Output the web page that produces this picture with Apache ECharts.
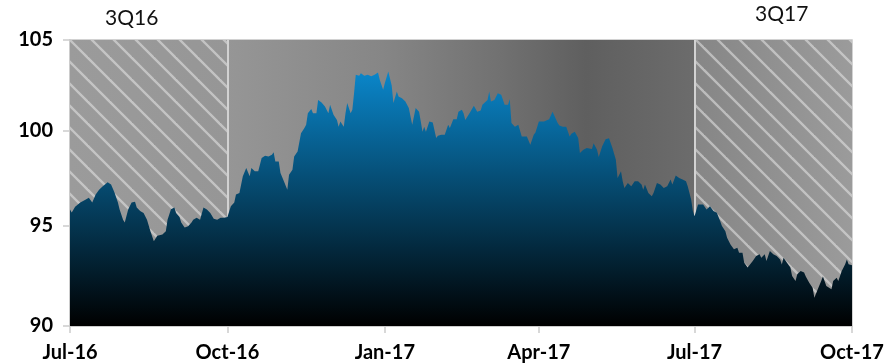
<!DOCTYPE html>
<html>
<head>
<meta charset="utf-8">
<script src="https://cdn.jsdelivr.net/npm/echarts@6/dist/echarts.min.js"></script>
<style>html,body{margin:0;padding:0;background:#fff}#c{width:896px;height:363px}</style>
</head>
<body>
<div id="c"></div>
<script>
// Days since 2016-07-01 and index level (log-scaled axis)
const dayOffsets = [0,1,3,6,9,11,13,15,17,19,20,22,24,26,28,29,31,32,34,36,38,39,41,43,45,47,49,51,54,56,57,59,61,62,64,65,67,69,71,72,74,76,78,80,82,84,86,88,90,92,93,94,96,97,98,99,101,103,105,106,108,110,112,114,116,118,119,120,122,123,125,127,128,130,131,133,135,137,138,139,141,142,144,145,147,149,151,152,154,156,157,158,160,161,162,164,165,166,167,169,170,172,174,176,178,180,181,183,184,186,188,189,191,192,193,194,196,198,199,200,202,204,205,206,207,208,210,212,214,215,217,219,221,222,224,226,227,229,230,231,234,236,238,240,241,244,245,246,248,250,252,254,256,257,258,260,262,264,267,269,271,272,274,277,280,282,283,285,286,288,290,292,293,295,297,298,300,302,305,306,308,309,311,313,315,317,319,320,321,322,323,324,326,328,330,332,334,335,336,338,340,341,343,345,347,349,351,352,354,356,358,360,361,363,364,365,367,368,370,372,374,376,378,380,381,383,384,386,388,390,391,393,394,396,397,399,401,403,404,406,407,409,411,413,415,416,417,419,421,422,424,425,427,429,430,432,434,435,437,439,440,442,443,445,446,448,449,451,453,454,455,457];
const values = [95.83,95.68,95.98,96.19,96.34,96.44,96.19,96.61,96.86,97.03,97.07,97.25,97.13,96.71,96.19,95.83,95.31,95.16,95.83,96.19,96.24,95.94,95.75,95.65,95.31,94.72,94.21,94.48,94.55,94.72,95.31,95.84,95.94,95.65,95.45,95.16,94.91,94.97,95.16,95.31,95.41,95.31,95.94,95.83,95.65,95.35,95.31,95.41,95.41,95.45,95.41,96.0,96.19,96.61,96.52,96.69,97.56,98.0,97.56,98.0,97.83,97.83,98.53,98.65,98.61,98.7,98.83,98.35,98.35,97.73,97.3,96.86,97.65,97.91,98.61,98.88,99.85,100.13,100.31,100.94,101.16,100.94,100.94,101.66,101.52,101.3,100.94,101.4,100.85,100.57,100.21,100.49,100.21,100.94,101.49,100.94,101.12,102.03,103.05,102.99,103.14,102.99,103.05,102.97,103.05,103.18,102.77,102.22,102.59,103.23,102.45,101.49,102.13,101.85,101.94,101.76,101.58,101.22,100.76,100.31,101.22,101.02,100.49,99.94,100.21,99.94,100.49,100.43,99.6,99.72,99.77,99.77,100.31,100.13,100.61,100.61,101.02,101.12,100.94,100.57,101.02,101.34,101.02,101.09,101.4,101.66,102.13,101.58,101.66,102.03,101.94,101.4,101.4,101.71,100.4,100.21,100.31,99.68,99.68,99.23,99.77,99.89,100.49,100.49,100.61,101.02,100.97,100.4,100.27,100.21,100.21,99.68,99.82,99.94,99.6,98.8,98.97,99.06,99.01,99.32,98.97,98.58,99.15,99.53,99.59,99.06,98.44,97.48,97.39,97.83,97.3,96.95,97.21,97.04,97.3,97.3,97.13,96.86,97.13,96.69,96.52,96.69,97.21,97.13,96.95,97.04,97.39,97.13,97.6,97.48,97.39,97.3,97.04,96.35,95.75,95.49,96.09,96.18,96.09,95.83,96.0,95.75,95.66,95.23,94.98,94.72,94.38,94.04,93.8,93.88,93.62,93.62,93.12,92.88,92.79,93.21,93.46,93.55,93.37,93.55,93.21,93.71,93.55,93.46,93.28,93.03,93.37,93.12,92.88,92.46,92.21,92.54,92.71,92.63,92.43,92.12,91.88,91.38,91.8,92.21,92.43,91.96,91.88,91.8,92.21,92.37,92.21,92.71,93.05,93.28,93.05,93.0];

const tickDays = [0, 92, 184, 274, 365, 457];
const tickLabels = ['Jul-16', 'Oct-16', 'Jan-17', 'Apr-17', 'Jul-17', 'Oct-17'];
const yTicks = [90, 95, 100, 105];
const quarterBands = [
  { name: '3Q16', from: 0, to: 92 },
  { name: '3Q17', from: 365, to: 457 }
];
const quarterLines = [92, 365];

function makeHatch(offset) {
  const s = 22;
  const cv = document.createElement('canvas');
  cv.width = s; cv.height = s;
  const ctx = cv.getContext('2d');
  ctx.strokeStyle = 'rgba(232,232,232,0.55)';
  ctx.lineWidth = 2.3;
  for (let k = -2; k <= 1; k++) {
    const c = offset + k * s;
    ctx.beginPath();
    ctx.moveTo(-3, -3 + c);
    ctx.lineTo(s + 3, s + 3 + c);
    ctx.stroke();
  }
  return { image: cv, repeat: 'repeat' };
}

const chart = echarts.init(document.getElementById('c'), null, { renderer: 'canvas' });

const bgGrad = new echarts.graphic.LinearGradient(0, 0, 1, 0, [
  { offset: 0, color: '#9b9b9b' },
  { offset: 0.2, color: '#969696' },
  { offset: 0.4, color: '#868686' },
  { offset: 0.55, color: '#717171' },
  { offset: 0.66, color: '#5f5f5f' },
  { offset: 0.799, color: '#6c6c6c' },
  { offset: 0.8, color: '#868686' },
  { offset: 1, color: '#9b9b9b' }
]);
const hatches = [makeHatch(14), makeHatch(4)];

const yMin = yTicks[0], yMax = yTicks[yTicks.length - 1];

const option = {
  animation: false,
  grid: { left: 70, right: 44, top: 40, bottom: 37, show: true, borderColor: '#c4c4c4', borderWidth: 1.5, backgroundColor: 'transparent' },
  xAxis: {
    type: 'value', min: tickDays[0], max: tickDays[tickDays.length - 1],
    splitLine: { show: false },
    axisLine: { show: true, lineStyle: { color: '#cccccc', width: 2 } },
    axisTick: { show: true, length: 7, lineStyle: { color: '#cccccc', width: 1.5 }, customValues: tickDays },
    axisLabel: {
      customValues: tickDays, margin: 17,
      formatter: v => { const i = tickDays.indexOf(Math.round(v)); return i >= 0 ? tickLabels[i] : ''; },
      color: '#000', fontFamily: 'Lato', fontWeight: 'bold', fontSize: 20
    }
  },
  yAxis: {
    type: 'log', logBase: 10, min: yMin, max: yMax,
    splitLine: { show: false },
    minorTick: { show: false },
    axisLine: { show: true, lineStyle: { color: '#cccccc', width: 2 } },
    axisTick: { show: true, length: 7, lineStyle: { color: '#cccccc', width: 1.5 }, customValues: yTicks },
    axisLabel: { customValues: yTicks, margin: 17, color: '#000', fontFamily: 'Lato', fontWeight: 'bold', fontSize: 20,
      formatter: v => String(Math.round(v)) }
  },
  graphic: [
    { type: 'text', left: 105, top: 8, style: { text: quarterBands[0].name, fill: '#111', font: '21px Lato' } },
    { type: 'text', left: 755, top: 4, style: { text: quarterBands[1].name, fill: '#111', font: '21px Lato' } }
  ],
  series: [
    {
      type: 'line', data: [], silent: true,
      markArea: {
        silent: true, z: 1,
        data: [
          [{ xAxis: tickDays[0], yAxis: yMin, itemStyle: { color: bgGrad } }, { xAxis: tickDays[tickDays.length - 1], yAxis: yMax }]
        ].concat(quarterBands.map((b, i) => [
          { xAxis: b.from, yAxis: yMin, itemStyle: { color: hatches[i] } }, { xAxis: b.to, yAxis: yMax }
        ]))
      },
      markLine: {
        silent: true, z: 2, symbol: ['none', 'none'], label: { show: false },
        lineStyle: { color: '#d2d2d2', width: 2, type: 'solid' },
        data: quarterLines.map(d => ({ xAxis: d }))
      }
    },
    {
      type: 'line', z: 5, silent: true,
      data: dayOffsets.map((d, i) => [d, values[i]]),
      showSymbol: false, symbol: 'none',
      lineStyle: { width: 0 },
      areaStyle: {
        opacity: 1,
        color: new echarts.graphic.LinearGradient(0, 0, 0, 1, [
          { offset: 0, color: '#0a86ca' },
          { offset: 1, color: '#000000' }
        ]),
        origin: 'start'
      }
    }
  ]
};
chart.setOption(option);
</script>
</body>
</html>
